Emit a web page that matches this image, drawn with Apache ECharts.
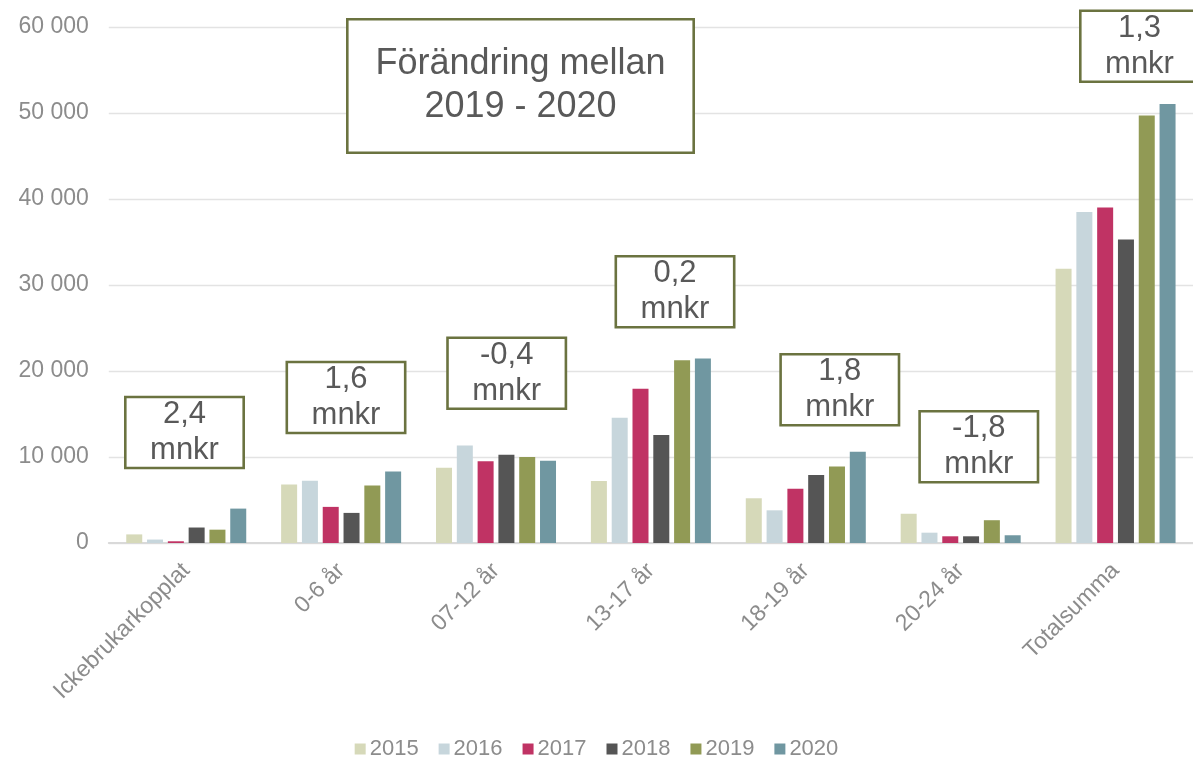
<!DOCTYPE html>
<html>
<head>
<meta charset="utf-8">
<script src="https://cdn.jsdelivr.net/npm/echarts@6/dist/echarts.min.js"></script>
<style>
  html, body { margin: 0; padding: 0; background: #fff; }
  #chart { width: 1193px; height: 759px; }
</style>
</head>
<body>
<div id="chart"></div>
<script>
const categories = ['Ickebrukarkopplat', '0-6 år', '07-12 år', '13-17 år', '18-19 år', '20-24 år', 'Totalsumma']
const years = ['2015', '2016', '2017', '2018', '2019', '2020']
const values2015 = [1000, 6800, 8750, 7200, 5200, 3400, 31900]
const values2016 = [400, 7250, 11350, 14550, 3800, 1200, 38500]
const values2017 = [200, 4200, 9500, 17950, 6300, 780, 39000]
const values2018 = [1800, 3500, 10250, 12550, 7900, 780, 35300]
const values2019 = [1550, 6700, 10000, 21250, 8900, 2650, 49700]
const values2020 = [4000, 8300, 9550, 21450, 10600, 900, 51050]
const changeLabels = ['2,4', '1,6', '-0,4', '0,2', '1,8', '-1,8', '1,3']
const boxTitle = 'Förändring mellan\n2019 - 2020'

const colors = ['#d6d9b9', '#c7d6dc', '#c03364', '#555555', '#919a55', '#7097a1']
const seriesValues = [values2015, values2016, values2017, values2018, values2019, values2020]
const font = '"Liberation Sans", Arial, sans-serif'
const boxColor = '#6b7340'
const textColor = '#595959'

// centres of the "mnkr" boxes, in pixels
const boxCenters = [
  [184.5, 432.5], [346, 397.5], [506.7, 373.3], [675, 291.7],
  [839.8, 389.7], [978.8, 446.8], [1139.5, 46.3]
]

const graphic = []
graphic.push({
  type: 'rect',
  shape: { x: 347.3, y: 19.3, width: 346.4, height: 133.4 },
  style: { fill: '#fff', stroke: boxColor, lineWidth: 2.6 },
  z: 100
})
graphic.push({
  type: 'text',
  x: 520.5,
  y: 86,
  style: {
    text: boxTitle,
    font: '36px ' + font,
    fill: textColor,
    align: 'center',
    verticalAlign: 'middle',
    lineHeight: 43
  },
  z: 101
})
boxCenters.forEach((c, i) => {
  graphic.push({
    type: 'rect',
    shape: { x: c[0] - 59.2, y: c[1] - 35.5, width: 118.4, height: 71 },
    style: { fill: '#fff', stroke: boxColor, lineWidth: 2.6 },
    z: 100
  })
  graphic.push({
    type: 'text',
    x: c[0],
    y: c[1],
    style: {
      text: changeLabels[i] + '\nmnkr',
      font: '31px ' + font,
      fill: textColor,
      align: 'center',
      verticalAlign: 'middle',
      lineHeight: 36
    },
    z: 101
  })
})

const chart = echarts.init(document.getElementById('chart'))
const option = {
  animation: false,
  color: colors,
  textStyle: { fontFamily: font },
  grid: { left: 108.8, right: -10, top: 27, bottom: 216, containLabel: false },
  legend: {
    bottom: -6,
    left: 'center',
    icon: 'rect',
    itemWidth: 11,
    itemHeight: 11,
    itemGap: 20,
    textStyle: { color: '#8c8c8c', fontSize: 22, fontFamily: font, padding: [0, 0, 0, -1] },
    data: years
  },
  xAxis: {
    type: 'category',
    data: categories,
    axisLine: { lineStyle: { color: '#d9d9d9', width: 2 } },
    axisTick: { show: false },
    axisLabel: {
      rotate: 45,
      interval: 0,
      margin: 24,
      color: '#8c8c8c',
      fontSize: 23,
      fontFamily: font
    }
  },
  yAxis: {
    type: 'value',
    min: 0,
    max: 60000,
    interval: 10000,
    axisLine: { show: false },
    axisTick: { show: false },
    splitLine: { lineStyle: { color: '#e3e3e3', width: 1.3 } },
    axisLabel: {
      margin: 20,
      color: '#8c8c8c',
      fontSize: 23,
      fontFamily: font,
      formatter: (v) => String(v).replace(/\B(?=(\d{3})+(?!\d))/g, ' ')
    }
  },
  series: years.map((y, i) => ({
    name: y,
    type: 'bar',
    barWidth: 16,
    barGap: '30%',
    data: seriesValues[i]
  })),
  graphic: graphic
}
chart.setOption(option)
</script>
</body>
</html>
